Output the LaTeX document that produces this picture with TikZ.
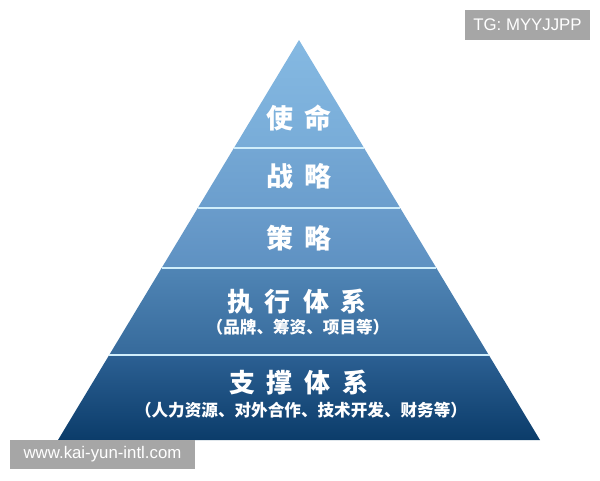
\documentclass[tikz,border=0pt]{standalone}
\usepackage{fontspec}
\newfontfamily\cjk{Noto Sans CJK SC}
\newfontfamily\wmfont{Liberation Sans}
\usetikzlibrary{calc}
\definecolor{bandAtop}{HTML}{85B9E2}
\definecolor{bandAbot}{HTML}{78ACD8}
\definecolor{bandBtop}{HTML}{74A7D4}
\definecolor{bandBbot}{HTML}{6B9ECD}
\definecolor{bandCtop}{HTML}{6A9CCB}
\definecolor{bandCbot}{HTML}{5E91C2}
\definecolor{bandDtop}{HTML}{5085B5}
\definecolor{bandDbot}{HTML}{366A9B}
\definecolor{bandEtop}{HTML}{2C6093}
\definecolor{bandEbot}{HTML}{0B3C6A}
\definecolor{lineblue}{HTML}{D0EEFB}
\definecolor{tagGray}{HTML}{A6A6A6}
\newcommand{\gp}{\hspace{12pt}}
\begin{document}
\begin{tikzpicture}[x=1pt, y=-1pt,
    title/.style={text=white, inner sep=0pt, font=\cjk\bfseries\fontsize{26}{30}\selectfont},
    bigtitle/.style={title, font=\cjk\bfseries\fontsize{27}{31}\selectfont},
    subtitle/.style={text=white, inner sep=0pt, font=\cjk\bfseries\fontsize{16.6}{19}\selectfont},
    divider/.style={draw=lineblue, line width=1.6pt},
    tag/.style={fill=tagGray, text=white, inner sep=0pt, font=\wmfont\fontsize{16.8}{19}\selectfont}]
    \useasboundingbox (0,0) rectangle (600,480);
    % pyramid corners
    \coordinate (apex) at (299,40);
    \coordinate (bl) at (58,440);
    \coordinate (br) at (540,440);
    \foreach \n/\t in {1/0.27, 2/0.42, 3/0.57, 4/0.7875} {
        \coordinate (l\n) at ($(apex)!\t!(bl)$);
        \coordinate (r\n) at ($(apex)!\t!(br)$);
    }
    % bands
    \shade[top color=bandAtop, bottom color=bandAbot] (apex) -- (r1) -- (l1) -- cycle;
    \shade[top color=bandBtop, bottom color=bandBbot] (l1) -- (r1) -- (r2) -- (l2) -- cycle;
    \shade[top color=bandCtop, bottom color=bandCbot] (l2) -- (r2) -- (r3) -- (l3) -- cycle;
    \shade[top color=bandDtop, bottom color=bandDbot] (l3) -- (r3) -- (r4) -- (l4) -- cycle;
    \shade[top color=bandEtop, bottom color=bandEbot] (l4) -- (r4) -- (br) -- (bl) -- cycle;
    \foreach \n in {1,...,4}
        \draw[divider] (l\n) -- (r\n);
    % labels
    \node[bigtitle] (mission) at (299,118) {使\gp 命};
    \node[bigtitle] (strategy) at (299,176) {战\gp 略};
    \node[bigtitle] (tactics) at (299,238) {策\gp 略};
    \node[title] (execution) at (297,302) {执\gp 行\gp 体\gp 系};
    \node[subtitle] (execnote) at (298,327) {（品牌、筹资、项目等）};
    \node[title] (support) at (299,383) {支\gp 撑\gp 体\gp 系};
    \node[subtitle] (supportnote) at (301,410) {（人力资源、对外合作、技术开发、财务等）};
    % watermarks
    \node[tag, minimum width=125pt, minimum height=30pt] (tg) at (527.5,25) {TG: MYYJJPP};
    \node[tag, minimum width=185pt, minimum height=29pt] (site) at (102.5,454.5) {www.kai-yun-intl.com};
\end{tikzpicture}
\end{document}
